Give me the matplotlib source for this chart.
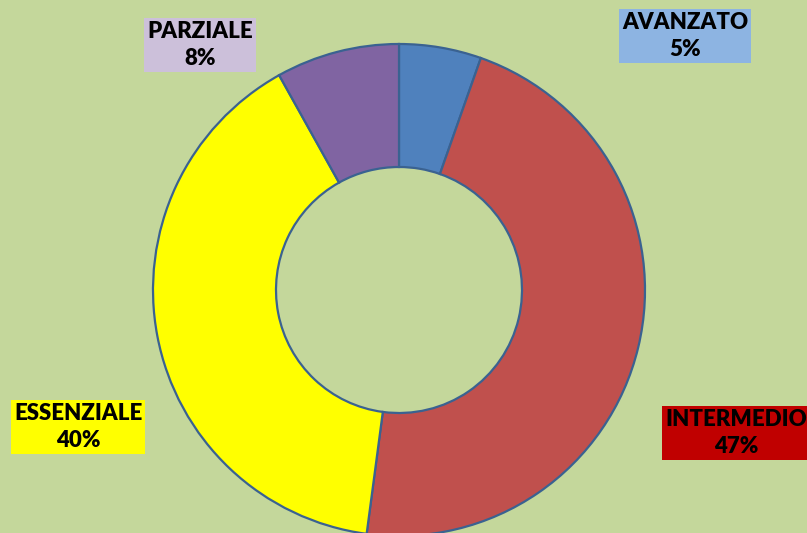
import matplotlib.pyplot as plt

# dati del grafico
livelli = ['AVANZATO', 'INTERMEDIO', 'ESSENZIALE', 'PARZIALE']
valori = [5.4, 46.7, 39.8, 8.1]
colori = ['#4f81bd', '#c0504d', '#ffff00', '#8064a2']
colori_etichette = ['#8db4e2', '#c00000', '#ffff00', '#ccc0da']

sfondo = '#c4d79b'

fig = plt.figure(figsize=(8.07, 5.33), dpi=100, facecolor=sfondo)
ax = fig.add_axes([0, 0, 1, 1])
ax.set_facecolor(sfondo)

ax.pie(valori, colors=colori, startangle=90, counterclock=False,
       center=(399, 243), radius=246, frame=True,
       wedgeprops=dict(width=123, edgecolor='#3a6291', linewidth=1.6))
ax.set_xlim(0, 807)
ax.set_ylim(0, 533)
ax.axis('off')

# posizione delle etichette (pixel)
pos_etichette = [(685, 497), (736, 100), (78, 106), (200, 488)]
totale = sum(valori)
for nome, v, c, (x, y) in zip(livelli, valori, colori_etichette, pos_etichette):
    perc = round(v / totale * 100)
    ax.text(x, y, f'{nome}\n{perc}%', ha='center', va='center',
            fontsize=16, fontweight='heavy', family='Lato', linespacing=1.3,
            bbox=dict(boxstyle='square,pad=0.15', facecolor=c, edgecolor='none'))

fig.savefig('out.png', dpi=100, facecolor=sfondo)
